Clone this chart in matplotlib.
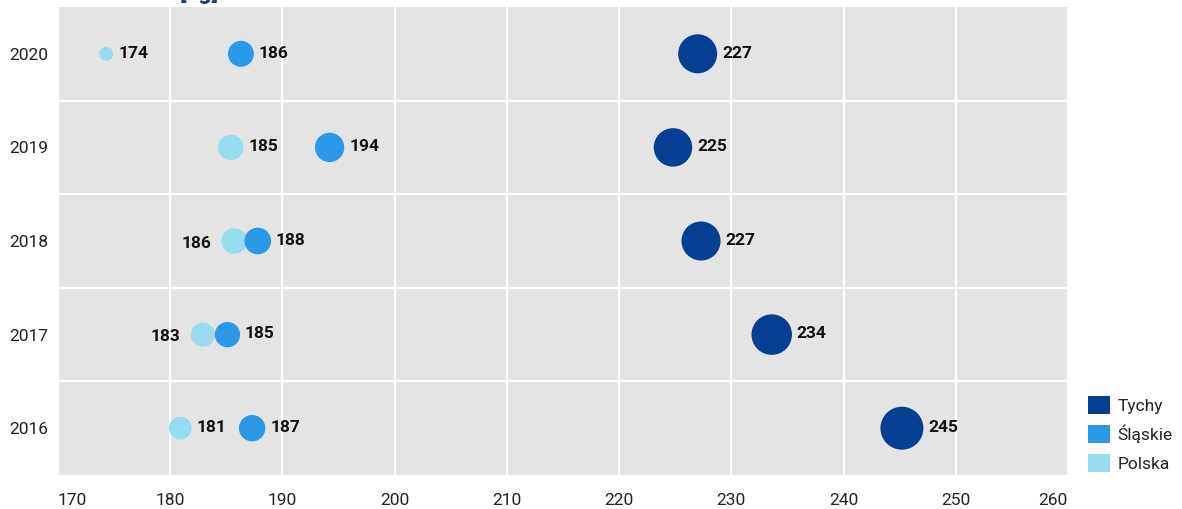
import numpy as np
import matplotlib
matplotlib.use("Agg")
import matplotlib.pyplot as plt
from matplotlib.patches import Patch

# ---- data ----
years = ["2016", "2017", "2018", "2019", "2020"]
tychy = [245.2, 233.6, 227.3, 224.8, 227.0]
slaskie = [187.3, 185.1, 187.8, 194.2, 186.3]
polska = [180.9, 182.9, 185.7, 185.4, 174.3]
series_names = ["Tychy", "Śląskie", "Polska"]
x_ticks = [170, 180, 190, 200, 210, 220, 230, 240, 250, 260]

colors = {"Tychy": "#063f92", "Śląskie": "#2b98e8", "Polska": "#98dcef"}

plt.rcParams["font.family"] = ["Roboto", "DejaVu Sans"]

DPI = 100
W, H = 1182, 509
fig = plt.figure(figsize=(W / DPI, H / DPI), dpi=DPI)
fig.patch.set_facecolor("white")

ax_l, ax_r, ax_t, ax_b = 58, 1068, 7, 475
ax = fig.add_axes([ax_l / W, 1 - ax_b / H, (ax_r - ax_l) / W, (ax_b - ax_t) / H])
ax.set_facecolor("#e4e4e4")
for s in ax.spines.values():
    s.set_visible(False)

all_vals = np.array(tychy + slaskie + polska)
vmin, vmax = all_vals.min(), all_vals.max()
dmin_px, dmax_px = 14.0, 43.0


def diam_pt(v):
    pos = (np.asarray(v) - vmin) / (vmax - vmin)
    d_px = dmin_px + np.sqrt(pos) * (dmax_px - dmin_px)
    return d_px * 72.0 / DPI


ypos = np.arange(len(years))
data = {"Tychy": tychy, "Śląskie": slaskie, "Polska": polska}

# draw in order Polska, Śląskie, Tychy so Śląskie overlaps Polska
for name in ["Polska", "Śląskie", "Tychy"]:
    vals = np.array(data[name])
    d = diam_pt(vals)
    ax.scatter(vals, ypos, s=d ** 2, color=colors[name], edgecolors="none",
               zorder=3)

for name in ["Polska", "Śląskie", "Tychy"]:
    vals = np.array(data[name])
    d = diam_pt(vals)
    for i, v in enumerate(vals):
        left = False
        if name == "Polska" and abs(slaskie[i] - v) < 4:
            left = True
        r = d[i] / 2
        if left:
            ax.annotate(f"{round(v):d}", (v, ypos[i]), xytext=(-(r + 7.5), -1.5),
                        textcoords="offset points", ha="right", va="center",
                        fontsize=12.5, fontweight="bold", color="#111111", zorder=4)
        else:
            ax.annotate(f"{round(v):d}", (v, ypos[i]), xytext=(r + 3.5, 0.5),
                        textcoords="offset points", ha="left", va="center",
                        fontsize=12.5, fontweight="bold", color="#111111", zorder=4)

ax.set_xlim(170, 260)
ax.set_ylim(-0.5, len(years) - 0.5)
ax.set_xticks(x_ticks)
ax.set_xticklabels([str(t) for t in x_ticks])
ax.set_yticks(ypos)
ax.set_yticklabels(years)
ax.set_yticks(np.arange(0.5, len(years) - 0.5, 1.0), minor=True)
ax.tick_params(axis="both", which="both", length=0, labelsize=12.5,
               labelcolor="#222222")
ax.tick_params(axis="x", pad=13)
ax.tick_params(axis="y", pad=7)
tl = ax.get_xticklabels()
tl[0].set_ha("left")
tl[-1].set_ha("right")

ax.grid(axis="x", which="major", color="white", linewidth=1.6, zorder=1)
ax.grid(axis="y", which="minor", color="white", linewidth=1.6, zorder=1)
ax.grid(axis="y", which="major", visible=False)
ax.set_axisbelow(True)

# legend
handles = [Patch(facecolor=colors[n], edgecolor="none", label=n) for n in series_names]
leg = fig.legend(handles=handles, loc="lower left",
                 bbox_to_anchor=(1088 / W, 37 / H), frameon=False,
                 fontsize=12.5, handlelength=1.25, handleheight=1.25,
                 handletextpad=0.45, labelspacing=0.6, borderpad=0,
                 borderaxespad=0)
for t in leg.get_texts():
    t.set_color("#222222")

# partially visible title (cut off at the top edge, as in the reference)
fig.text(180 / W, 1 + 1 / H, "[kg]", ha="left", va="baseline",
         fontsize=17, fontweight="bold", color="#1c3f7e")

fig.savefig("out.png", dpi=DPI)
